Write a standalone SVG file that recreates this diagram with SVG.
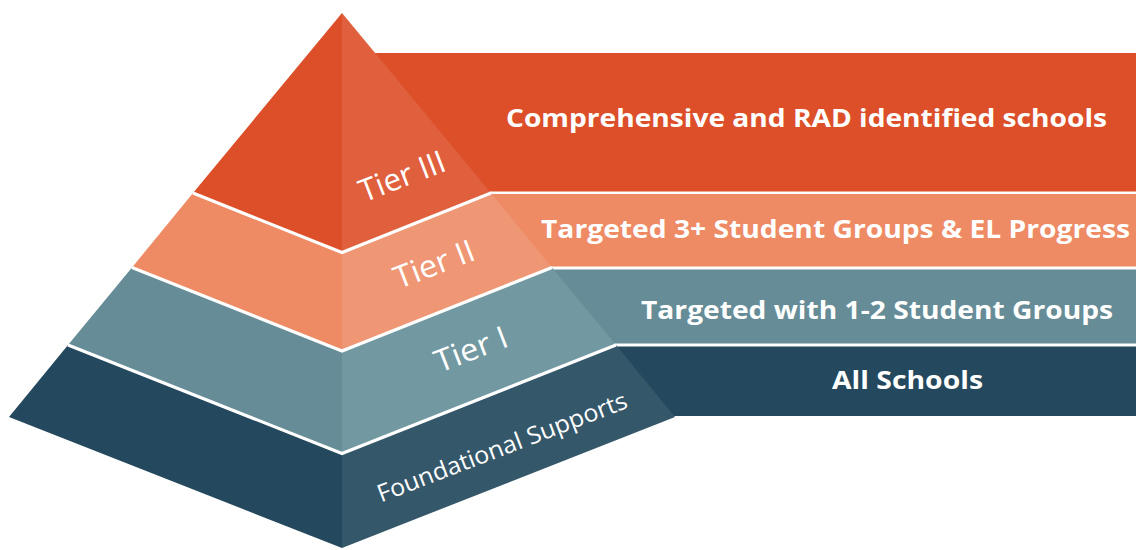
<svg xmlns="http://www.w3.org/2000/svg" width="1136" height="550" viewBox="0 0 1136 550">
<style>
.bar-t{font-family:"Open Sans","Liberation Sans",sans-serif;font-weight:700;font-size:25px;fill:#fff}
.tier-t{font-family:"Open Sans","Liberation Sans",sans-serif;font-weight:400;fill:#fff;text-anchor:middle}
.div{fill:none;stroke:#fff;stroke-width:3.2;stroke-linejoin:miter}
</style>
<rect width="1136" height="550" fill="#fff"/>
<g id="bars">
<g id="bar-tier3"><rect x="342" y="53" width="794" height="138.5" fill="#DC4F29"/><text class="bar-t" x="506" y="127" textLength="601" lengthAdjust="spacingAndGlyphs">Comprehensive and RAD identified schools</text></g>
<g id="bar-tier2"><rect x="342" y="194" width="794" height="72.5" fill="#EE8A64"/><text class="bar-t" x="541" y="238" textLength="589" lengthAdjust="spacingAndGlyphs">Targeted 3+ Student Groups &amp; EL Progress</text></g>
<g id="bar-tier1"><rect x="342" y="269.5" width="794" height="74" fill="#668C97"/><text class="bar-t" x="641" y="319" textLength="472" lengthAdjust="spacingAndGlyphs">Targeted with 1-2 Student Groups</text></g>
<g id="bar-found"><rect x="342" y="346.5" width="794" height="69.5" fill="#24485D"/><text class="bar-t" x="832" y="389" textLength="151" lengthAdjust="spacingAndGlyphs">All Schools</text></g>
</g>
<g id="pyramid">
<g id="tier3">
<polygon points="342,13 193,193 342,252.5" fill="#DC4F29"/>
<polygon points="342,13 491,193 342,252.5" fill="#E0603E"/>
<text class="tier-t" font-size="31" transform="translate(402,176) rotate(-21)" y="11" textLength="90" lengthAdjust="spacingAndGlyphs">Tier III</text>
</g>
<g id="tier2">
<polygon points="193,193 132,267.5 342,351 342,252.5" fill="#EE8A64"/>
<polygon points="491,193 552,267.5 342,351 342,252.5" fill="#EF9674"/>
<text class="tier-t" font-size="31" transform="translate(434,264) rotate(-21)" y="11" textLength="84" lengthAdjust="spacingAndGlyphs">Tier II</text>
</g>
<g id="tier1">
<polygon points="132,267.5 68,345 342,453.5 342,351" fill="#668C97"/>
<polygon points="552,267.5 616,345 342,453.5 342,351" fill="#7298A1"/>
<text class="tier-t" font-size="31" transform="translate(471,349) rotate(-21)" y="11" textLength="76" lengthAdjust="spacingAndGlyphs">Tier I</text>
</g>
<g id="foundational">
<polygon points="68,345 9,417 342,548 342,453.5" fill="#24485D"/>
<polygon points="616,345 675,417 342,548 342,453.5" fill="#35576A"/>
<text class="tier-t" font-size="24" transform="translate(502,447) rotate(-21)" y="8.5" textLength="266" lengthAdjust="spacingAndGlyphs">Foundational Supports</text>
</g>
</g>
<g id="connectors">
<polyline class="div" points="193,193 342,252.5 491,193"/>
<polyline class="div" points="132,267.5 342,351 552,267.5"/>
<polyline class="div" points="68,345 342,453.5 616,345"/>
</g>
</svg>
